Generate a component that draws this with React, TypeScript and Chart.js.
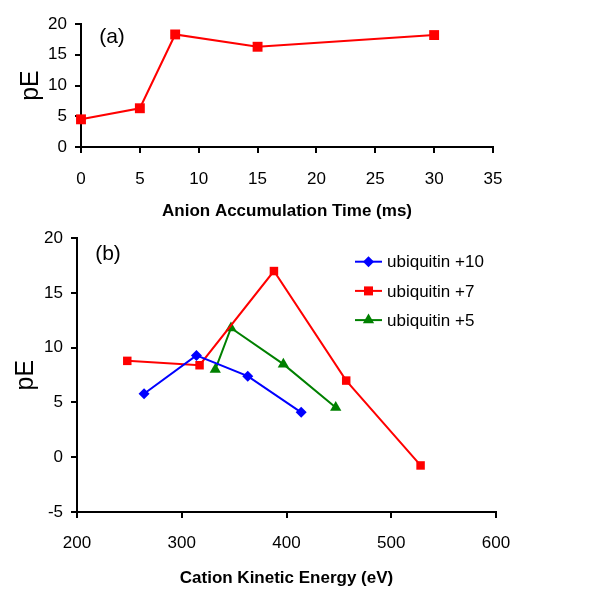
import React, { useEffect, useRef } from "react";
import { Chart, registerables } from "chart.js";

Chart.register(...registerables);

// Panel (a)
const accumTime = [0, 5, 8, 15, 30];
const accumPE = [4.5, 6.3, 18.3, 16.3, 18.2];
const aXTicks = [0, 5, 10, 15, 20, 25, 30, 35];
const aYTicks = [0, 5, 10, 15, 20];

// Panel (b)
const seriesNames = ["ubiquitin +10", "ubiquitin +7", "ubiquitin +5"];
const ub10Energy = [264, 314, 363, 414];
const ub10PE = [5.8, 9.3, 7.4, 4.1];
const ub7Energy = [248, 317, 388, 457, 528];
const ub7PE = [8.8, 8.4, 17.0, 7.0, -0.75];
const ub5Energy = [332, 347, 397, 447];
const ub5PE = [8.0, 11.8, 8.5, 4.55];
const bXTicks = [200, 300, 400, 500, 600];
const bYTicks = [-5, 0, 5, 10, 15, 20];

const FONT = "'Liberation Sans', Arial, Helvetica, sans-serif";
const RED = "#ff0000";
const BLUE = "#0000ff";
const GREEN = "#008000";

const zip = (xs: number[], ys: number[]) => xs.map((x, i) => ({ x, y: ys[i] }));

function axisCommon(min: number, max: number, step: number, extra: any) {
  return {
    type: "linear",
    min,
    max,
    ticks: {
      stepSize: step,
      color: "#000",
      font: { family: FONT, size: 17 },
      padding: 8,
    },
    grid: {
      display: true,
      drawOnChartArea: false,
      drawTicks: true,
      tickLength: 6,
      color: "#000",
      lineWidth: 2,
    },
    border: { display: true, color: "#000", width: 2 },
    ...extra,
  };
}

function drawMarker(ctx: CanvasRenderingContext2D, style: string, x: number, y: number, color: string) {
  ctx.save();
  ctx.fillStyle = color;
  ctx.beginPath();
  if (style === "rectRot") {
    const r = 5.5;
    ctx.moveTo(x, y - r);
    ctx.lineTo(x + r, y);
    ctx.lineTo(x, y + r);
    ctx.lineTo(x - r, y);
    ctx.closePath();
  } else if (style === "rect") {
    const h = 4.5;
    ctx.rect(x - h, y - h, 2 * h, 2 * h);
  } else {
    const r = 6.5;
    ctx.moveTo(x, y - r);
    ctx.lineTo(x + r * 0.866, y + r * 0.5);
    ctx.lineTo(x - r * 0.866, y + r * 0.5);
    ctx.closePath();
  }
  ctx.fill();
  ctx.restore();
}

function labelPlugin(text: string, dy: number) {
  return {
    id: "panelLabel",
    afterDraw(chart: any) {
      const ctx = chart.ctx;
      const ca = chart.chartArea;
      ctx.save();
      ctx.fillStyle = "#000";
      ctx.font = `21px ${FONT}`;
      ctx.textAlign = "center";
      ctx.textBaseline = "middle";
      ctx.fillText(text, ca.left + 31, ca.top + dy);
      ctx.restore();
    },
  };
}

const legendPlugin = {
  id: "customLegend",
  afterDraw(chart: any) {
    const ctx = chart.ctx;
    const items = chart.data.datasets;
    const x0 = 355;
    const x1 = 382;
    const yStart = 41.7;
    const gap = 29.2;
    items.forEach((ds: any, i: number) => {
      const y = yStart + i * gap;
      ctx.save();
      ctx.strokeStyle = ds.borderColor;
      ctx.lineWidth = 2;
      ctx.beginPath();
      ctx.moveTo(x0, y);
      ctx.lineTo(x1, y);
      ctx.stroke();
      ctx.restore();
      drawMarker(ctx, ds.pointStyle, (x0 + x1) / 2, y, ds.borderColor);
      ctx.save();
      ctx.fillStyle = "#000";
      ctx.font = `17px ${FONT}`;
      ctx.textAlign = "left";
      ctx.textBaseline = "middle";
      ctx.fillText(ds.label, 387, y + 1);
      ctx.restore();
    });
  },
};

function TopChart() {
  const ref = useRef<HTMLCanvasElement>(null);
  useEffect(() => {
    const chart = new Chart(ref.current as HTMLCanvasElement, {
      type: "line",
      data: {
        datasets: [
          {
            label: "pE",
            data: zip(accumTime, accumPE),
            borderColor: RED,
            backgroundColor: RED,
            borderWidth: 2,
            pointStyle: "rect",
            pointRadius: 7,
            pointHoverRadius: 7,
            pointBorderWidth: 0,
            clip: false,
          },
        ],
      },
      options: {
        animation: false,
        responsive: false,
        devicePixelRatio: 1,
        layout: { padding: { top: 24, right: 107, left: 0, bottom: 0 } },
        plugins: { legend: { display: false }, tooltip: { enabled: false } },
        scales: {
          x: axisCommon(0, 35, 5, {
            ticks: {
              stepSize: 5,
              color: "#000",
              font: { family: FONT, size: 17 },
              padding: 16,
              callback: (v: any) => (aXTicks.includes(v) ? String(v) : ""),
            },
            title: {
              display: true,
              text: "Anion Accumulation Time (ms)",
              color: "#000",
              font: { family: FONT, size: 17, weight: "bold" },
              padding: { top: 0, bottom: 0 },
            },
            afterFit: (s: any) => {
              s.height = 75;
            },
          }),
          y: axisCommon(0, 20, 5, {
            ticks: {
              stepSize: 5,
              color: "#000",
              font: { family: FONT, size: 17 },
              padding: 8,
              callback: (v: any) => (aYTicks.includes(v) ? String(v) : ""),
            },
            title: {
              display: true,
              text: "pE",
              color: "#000",
              font: { family: FONT, size: 25 },
              padding: { top: 16, bottom: 0 },
            },
            afterFit: (s: any) => {
              s.width = 81;
            },
          }),
        },
      },
      plugins: [labelPlugin("(a)", 13)],
    } as any);
    return () => chart.destroy();
  }, []);
  return <canvas ref={ref} width={600} height={222} style={{ display: "block" }} />;
}

function BottomChart() {
  const ref = useRef<HTMLCanvasElement>(null);
  useEffect(() => {
    const mk = (label: string, xs: number[], ys: number[], color: string, style: string, r: number) => ({
      label,
      data: zip(xs, ys),
      borderColor: color,
      backgroundColor: color,
      borderWidth: 2,
      pointStyle: style,
      pointRadius: r,
      pointHoverRadius: r,
      pointBorderWidth: 0,
      clip: false,
    });
    const chart = new Chart(ref.current as HTMLCanvasElement, {
      type: "line",
      data: {
        datasets: [
          mk(seriesNames[0], ub10Energy, ub10PE, BLUE, "rectRot", 5.5),
          mk(seriesNames[1], ub7Energy, ub7PE, RED, "rect", 6),
          mk(seriesNames[2], ub5Energy, ub5PE, GREEN, "triangle", 6.5),
        ],
      },
      options: {
        animation: false,
        responsive: false,
        devicePixelRatio: 1,
        layout: { padding: { top: 17, right: 104, left: 0, bottom: 0 } },
        plugins: { legend: { display: false }, tooltip: { enabled: false } },
        scales: {
          x: axisCommon(200, 600, 100, {
            ticks: {
              stepSize: 100,
              color: "#000",
              font: { family: FONT, size: 17 },
              padding: 15,
              callback: (v: any) => (bXTicks.includes(v) ? String(v) : ""),
            },
            title: {
              display: true,
              text: "Cation Kinetic Energy (eV)",
              color: "#000",
              font: { family: FONT, size: 17, weight: "bold" },
              padding: { top: 0, bottom: 10 },
            },
            afterFit: (s: any) => {
              s.height = 87;
            },
          }),
          y: axisCommon(-5, 20, 5, {
            ticks: {
              stepSize: 5,
              color: "#000",
              font: { family: FONT, size: 17 },
              padding: 8,
              callback: (v: any) => (bYTicks.includes(v) ? String(v) : ""),
            },
            title: {
              display: true,
              text: "pE",
              color: "#000",
              font: { family: FONT, size: 25 },
              padding: { top: 11, bottom: 0 },
            },
            afterFit: (s: any) => {
              s.width = 77;
            },
          }),
        },
      },
      plugins: [labelPlugin("(b)", 16), legendPlugin],
    } as any);
    return () => chart.destroy();
  }, []);
  return <canvas ref={ref} width={600} height={379} style={{ display: "block" }} />;
}

export default function App() {
  return (
    <div
      style={{
        position: "fixed",
        left: 0,
        top: 0,
        width: 600,
        height: 599,
        background: "#fff",
        overflow: "hidden",
      }}
    >
      <div style={{ position: "absolute", left: 0, top: 0 }}>
        <TopChart />
      </div>
      <div style={{ position: "absolute", left: 0, top: 220 }}>
        <BottomChart />
      </div>
    </div>
  );
}
